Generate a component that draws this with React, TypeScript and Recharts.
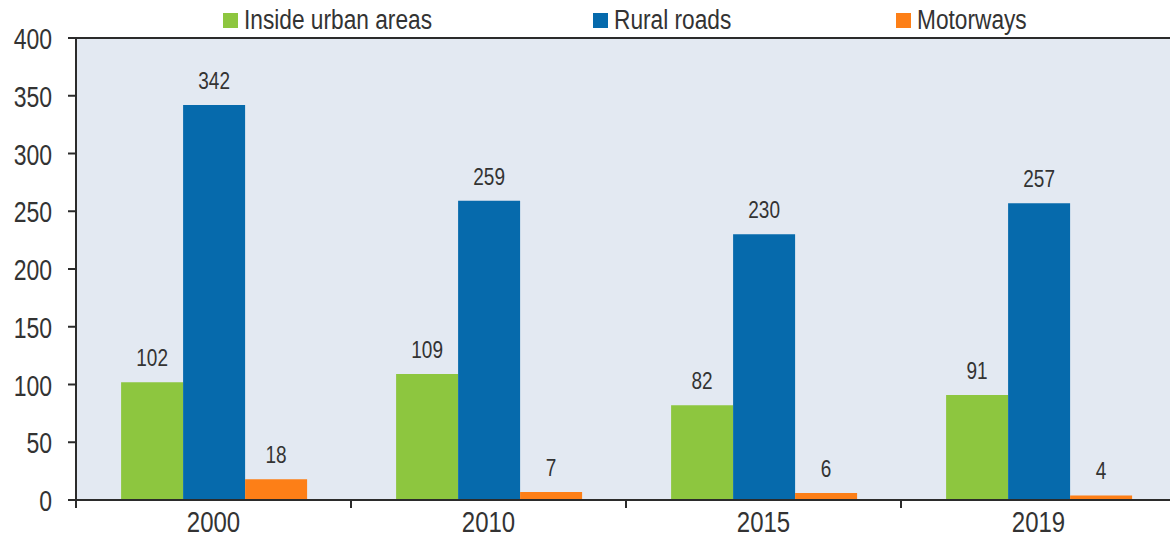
import React from 'react';
import {
  BarChart, Bar, XAxis, YAxis, CartesianGrid, Legend, LabelList, ReferenceLine
} from 'recharts';

const years = ['2000', '2010', '2015', '2019'];
const urban = [102, 109, 82, 91];
const rural = [342, 259, 230, 257];
const motorways = [18, 7, 6, 4];
const yTicks = [0, 50, 100, 150, 200, 250, 300, 350, 400];

const data = years.map((year, i) => ({
  year,
  urban: urban[i],
  rural: rural[i],
  motorways: motorways[i],
}));

const series = [
  { key: 'urban', name: 'Inside urban areas', color: '#8dc63f', x: 223 },
  { key: 'rural', name: 'Rural roads', color: '#066aac', x: 593 },
  { key: 'motorways', name: 'Motorways', color: '#fd7f17', x: 896 },
];

const FONT = 'Arial, "Liberation Sans", sans-serif';
const AXIS = '#2b2b2b';
const TEXT = '#333333';
const STRETCH = 1.25; // the source picture is a bit taller than wide

// text scaled vertically around its baseline
const Txt = ({ x, y, size, anchor = 'middle', children }: any) => (
  <text
    transform={`translate(${x},${y}) scale(1,${STRETCH})`}
    x={0}
    y={0}
    textAnchor={anchor}
    fill={TEXT}
    fontSize={size}
    fontFamily={FONT}
  >
    {children}
  </text>
);

// category ticks sit between the groups, so draw them by hand
const XTick = (props: any) => {
  const { x, y, payload, index } = props;
  const half = 275 / 2;
  return (
    <g>
      <line x1={x - half} x2={x - half} y1={y - 8} y2={y} stroke={AXIS} strokeWidth={2} />
      {index === years.length - 1 && (
        <line x1={x + half} x2={x + half} y1={y - 8} y2={y} stroke={AXIS} strokeWidth={2} />
      )}
      <Txt x={x} y={y + 24} size={24}>{payload.value}</Txt>
    </g>
  );
};

const YTick = (props: any) => {
  const { x, y, payload } = props;
  return <Txt x={x} y={y + 11} size={23} anchor="end">{payload.value}</Txt>;
};

const BarLabel = (props: any) => {
  const { x, y, width, value } = props;
  return <Txt x={x + width / 2} y={y - 16} size={19}>{value}</Txt>;
};

const LegendBox = () => (
  <svg width={1170} height={36} style={{ display: 'block' }}>
    {series.map((s) => (
      <g key={s.key}>
        <rect x={s.x} y={13} width={15} height={15} fill={s.color} />
        <Txt x={s.x + 21} y={29} size={22.7} anchor="start">{s.name}</Txt>
      </g>
    ))}
  </svg>
);

export default function App() {
  return (
    <div style={{ position: 'absolute', left: 0, top: 0, width: 1170, height: 538, overflow: 'hidden', background: '#fff' }}>
      <BarChart
        width={1180}
        height={538}
        data={data}
        margin={{ top: 38, right: 4, bottom: 0, left: 0 }}
        barCategoryGap="16.4%"
        barGap={0}
      >
        <CartesianGrid horizontal={false} vertical={false} fill="#e3e9f2" />
        <Legend
          verticalAlign="middle"
          content={<LegendBox />}
          wrapperStyle={{ position: 'absolute', left: 0, top: 0, width: 1170 }}
        />
        <XAxis
          dataKey="year"
          height={38}
          tickLine={false}
          axisLine={{ stroke: AXIS, strokeWidth: 2 }}
          tick={<XTick />}
          interval={0}
        />
        <YAxis
          width={76}
          domain={[0, 400]}
          ticks={yTicks}
          interval={0}
          tickSize={8}
          tickMargin={16}
          axisLine={{ stroke: AXIS, strokeWidth: 2 }}
          tickLine={{ stroke: AXIS, strokeWidth: 2 }}
          tick={<YTick />}
        />
        <ReferenceLine y={400} stroke={AXIS} strokeWidth={2} />
        {series.map((s) => (
          <Bar key={s.key} dataKey={s.key} name={s.name} fill={s.color} isAnimationActive={false}>
            <LabelList dataKey={s.key} content={<BarLabel />} />
          </Bar>
        ))}
      </BarChart>
    </div>
  );
}
